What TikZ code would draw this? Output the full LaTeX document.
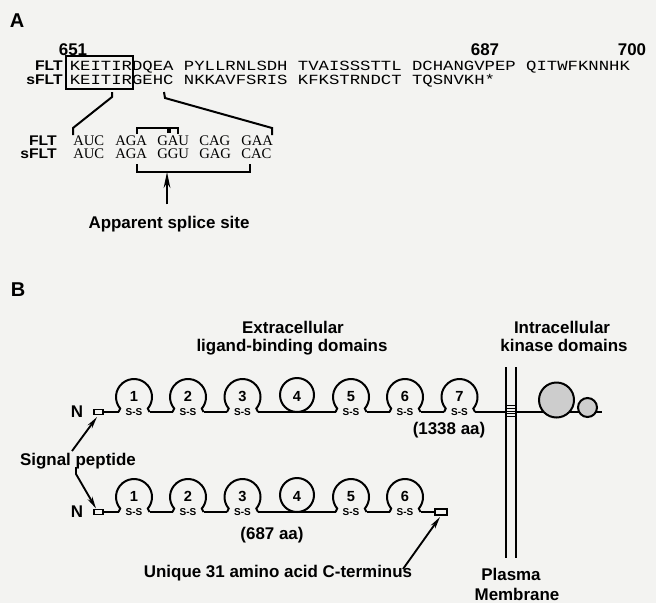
\documentclass[tikz,border=0pt]{standalone}
\usepackage{fontspec}
\setmainfont{Liberation Sans}
\newfontfamily\monof[FakeStretch=1.235]{Liberation Mono}
\newfontfamily\serf{Liberation Serif}
\newfontfamily\labf[FakeStretch=1.12]{Liberation Sans}
\usetikzlibrary{arrows.meta}
\definecolor{bgc}{RGB}{243,243,241}
\definecolor{kin}{RGB}{205,205,205}
\newcommand\omloop[4]{%
  \draw[ln] (#2-15.5,#3) -- (#2-13.79,#3-3.43) arc[start angle=140,end angle=400,radius=18] -- (#2+15.5,#3);
  \node[num] (#1n) at (#2,#3-15.5) {#4};
  \node[ss] (#1s) at (#2,#3+0.5) {S-S};}
\newcommand\cirloop[4]{%
  \draw[ln] (#2,#3-17) circle[radius=17];
  \node[num] (#1n) at (#2,#3-16) {#4};}
\begin{document}
\begin{tikzpicture}[x=0.75pt,y=-0.75pt,
  lab/.style={font=\bfseries\fontsize{12.7}{14}\selectfont,inner sep=0pt},
  slab/.style={font=\labf\bfseries\fontsize{10.5}{12}\selectfont,inner sep=0pt,anchor=base east},
  big/.style={font=\bfseries\fontsize{15}{17}\selectfont,inner sep=0pt},
  seq/.style={font=\monof\fontsize{10.5}{12}\selectfont,inner sep=0pt,anchor=base west,text height=7.2pt,text depth=0.5pt},
  cod/.style={font=\serf\fontsize{11}{12}\selectfont,inner sep=0pt,anchor=base west},
  num/.style={font=\bfseries\fontsize{11}{12}\selectfont,inner sep=0pt},
  ss/.style={font=\bfseries\fontsize{7.5}{8}\selectfont,inner sep=0pt},
  ln/.style={line width=1.5pt},
  arr/.style={line width=1.4pt,-{Stealth[length=9pt,width=4pt]}},
  sarr/.style={line width=1.6pt,-{Stealth[length=12pt,width=5pt]}}
]
\fill[bgc] (0,0) rectangle (656,603);
\useasboundingbox (0,0) rectangle (656,603);

% ---------------- Panel A ----------------
\node[big] (labA) at (17,21) {A};
\node[lab,anchor=base] (n651) at (73,55) {651};
\node[lab,anchor=base] (n687) at (485,55) {687};
\node[lab,anchor=base] (n700) at (632,55) {700};

\node[slab] (fltA) at (63,70.5) {FLT};
\node[slab] (sfltA) at (63,84) {sFLT};
\node[seq] (seqF) at (69.5,70.5) {KEITIRDQEA PYLLRNLSDH TVAISSSTTL DCHANGVPEP QITWFKNNHK};
\node[seq] (seqS) at (69.5,84) {KEITIRGEHC NKKAVFSRIS KFKSTRNDCT TQSNVKH*};
\draw[line width=1.7pt] (66,56) rectangle (133,89);

\coordinate (l1a) at (112,92);
\coordinate (l1b) at (73,128);
\coordinate (r1a) at (164,92);
\coordinate (r1b) at (272,128);
\draw[ln] (l1a) -- ++(0,5) -- (l1b) -- ++(0,7);
\draw[ln] (r1a) -- ++(1,6) -- (r1b) -- ++(0,7);

\node[slab] (fltB) at (57,145.5) {FLT};
\node[slab] (sfltB) at (57,158.5) {sFLT};
\node[cod] (c1) at (73,145.5) {AUC};
\node[cod] (c2) at (115,145.5) {AGA};
\node[cod] (c3) at (157,145.5) {GAU};
\node[cod] (c4) at (199,145.5) {CAG};
\node[cod] (c5) at (241,145.5) {GAA};
\node[cod] (d1) at (73,158.5) {AUC};
\node[cod] (d2) at (115,158.5) {AGA};
\node[cod] (d3) at (157,158.5) {GGU};
\node[cod] (d4) at (199,158.5) {GAG};
\node[cod] (d5) at (241,158.5) {CAC};

\draw[ln] (137,134) -- (137,128) -- (178,128) -- (178,134);
\fill (166.5,128) rectangle (170.5,133);
\draw[ln] (137,164) -- (137,171.5) -- (250,171.5) -- (250,164);

\node[lab,anchor=base] (splice) at (169,228) {Apparent splice site};
\coordinate (sp) at (167,172);
\draw[sarr] (splice.north -| sp) ++(0,-11) -- (sp);

% ---------------- Panel B ----------------
\node[big] (labB) at (18,290) {B};
\node[lab,anchor=base] (ext1) at (293,333) {Extracellular};
\node[lab,anchor=base] (ext2) at (292,351.5) {ligand-binding domains};
\node[lab,anchor=base] (int1) at (562,333) {Intracellular};
\node[lab,anchor=base] (int2) at (564,351.5) {kinase domains};

% membrane
\draw[ln] (506,367) -- (506,558);
\draw[ln] (516,367) -- (516,558);
\node[lab,anchor=base] (pm1) at (511,580) {Plasma};
\node[lab,anchor=base] (pm2) at (517,600) {Membrane};

% top row (FLT), baseline 412
\node[lab] (N1) at (77,412) {N};
\draw[line width=1.1pt] (94,409.5) rectangle (103,414.5);
\draw[ln] (103,412) -- (118.5,412);
\draw[ln] (149.5,412) -- (172.5,412);
\draw[ln] (203.5,412) -- (227,412);
\draw[ln] (258,412) -- (335.5,412);
\draw[ln] (366.5,412) -- (389.5,412);
\draw[ln] (420.5,412) -- (444,412);
\draw[ln] (475,412) -- (506,412);
\draw[ln] (516,412) -- (602,412);
\omloop{a1}{134}{412}{1}
\omloop{a2}{188}{412}{2}
\omloop{a3}{242.5}{412}{3}
\cirloop{a4}{297}{412}{4}
\omloop{a5}{351}{412}{5}
\omloop{a6}{405}{412}{6}
\omloop{a7}{459.5}{412}{7}
\foreach \yy in {405.5,408.3,411.1,413.9,416.7}
  \draw[line width=0.8pt] (506,\yy) -- (516,\yy);
\draw[ln,fill=kin] (556.5,400) circle[radius=17.5];
\draw[ln,fill=kin] (587.5,407.5) circle[radius=9.5];
\node[lab] (aa1338) at (449,430) {(1338 aa)};

% bottom row (sFLT), baseline 512
\node[lab] (N2) at (77,512) {N};
\draw[line width=1.1pt] (94,509.5) rectangle (103,514.5);
\draw[ln] (103,512) -- (118.5,512);
\draw[ln] (149.5,512) -- (172.5,512);
\draw[ln] (203.5,512) -- (227,512);
\draw[ln] (258,512) -- (335.5,512);
\draw[ln] (366.5,512) -- (389.5,512);
\draw[ln] (420.5,512) -- (435,512);
\omloop{b1}{134}{512}{1}
\omloop{b2}{188}{512}{2}
\omloop{b3}{242.5}{512}{3}
\cirloop{b4}{297}{512}{4}
\omloop{b5}{351}{512}{5}
\omloop{b6}{405}{512}{6}
\draw[line width=1.1pt] (435,509) rectangle (447,515);
\node[lab] (aa687) at (272,535) {(687 aa)};

% labels and arrows
\node[lab,anchor=base] (sig) at (78,465) {Signal peptide};
\coordinate (sigT) at (97,417);
\coordinate (sigB) at (96,508.5);
\draw[arr] (72,451) -- (sigT);
\draw[arr] (76,467) -- (76,474) -- (sigB);
\node[lab,anchor=base] (uniq) at (278,577) {Unique 31 amino acid C-terminus};
\coordinate (uq) at (440,517);
\draw[arr] (403,569) -- (uq);
\end{tikzpicture}
\end{document}
